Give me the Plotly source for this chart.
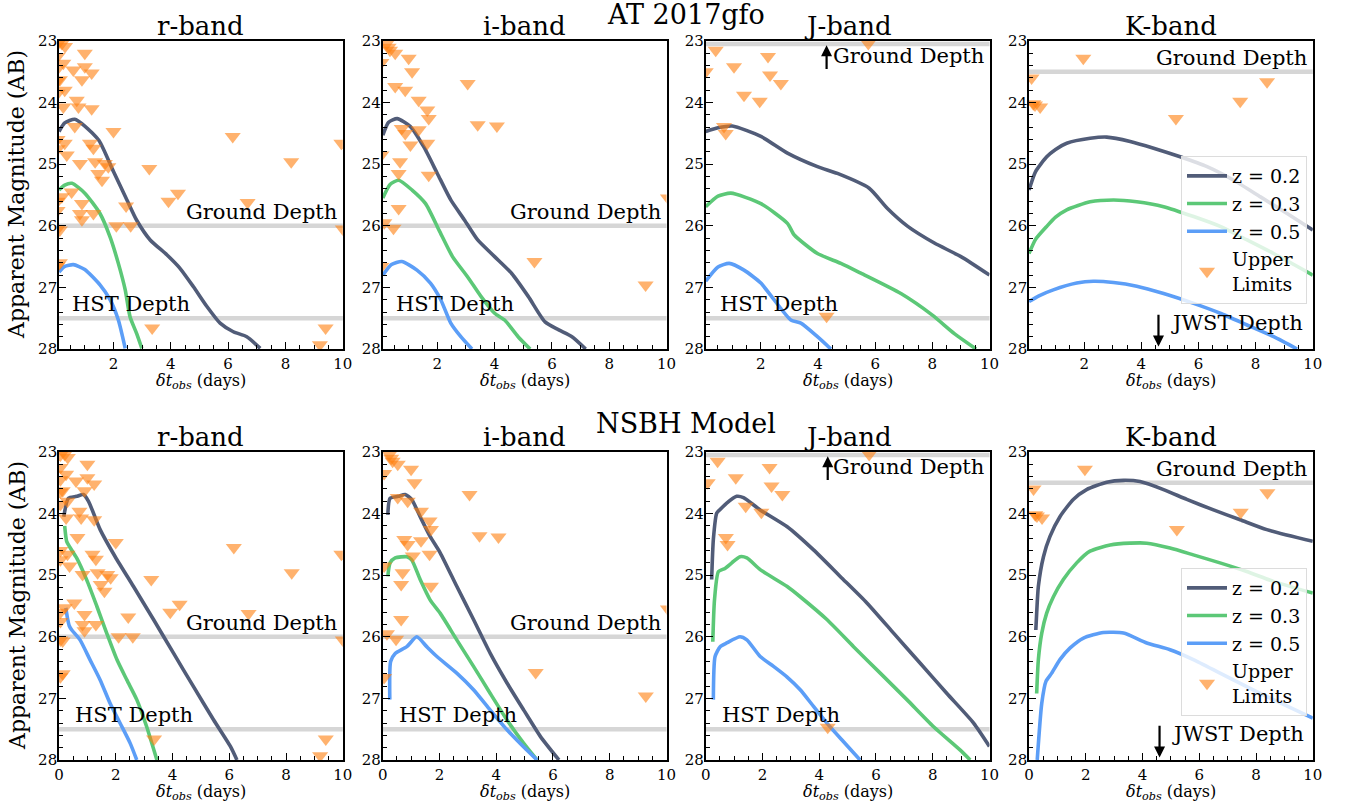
import plotly.graph_objects as go

FONT = "DejaVu Serif"

# ---------------- data ----------------
BANDS = ["r-band", "i-band", "J-band", "K-band"]
Z_LABELS = ["z = 0.2", "z = 0.3", "z = 0.5"]
X_TICKS = [0, 2, 4, 6, 8, 10]
Y_TICKS = [23, 24, 25, 26, 27, 28]

# observational upper limits (same in both rows)
R_LIM_T = [0.31, 0.2, 1.0, 0.25, 0.6, 1.0, 1.24, 0.9, 0.3, 0.72, 0.78, 1.24, 0.25, 0.65, 2.0, 0.3, 1.18, 1.3,
           0.37, 0.83, 1.36, 1.7, 1.82, 1.47, 1.6, 3.25, 6.16, 9.95, 8.2, 4.25, 3.92, 10.0, 6.68, 2.44, 0.54,
           0.9, 0.83, 1.3, 0.9, 2.1, 2.6, 0.2, 0.13, 0.13, 3.35, 9.4, 9.2, 0.13,
           0.05, 0.05, 0.05, 0.05, 0.05, 0.05, 0.05, 0.05, 0.05, 0.05, 0.05]
R_LIM_M = [23.09, 23.04, 23.2, 23.36, 23.47, 23.42, 23.52, 23.63, 23.8, 23.96, 24.07, 24.1, 24.07, 24.39, 24.47,
           24.66, 24.66, 24.74, 24.85, 24.99, 24.96, 24.99, 25.04, 25.15, 25.26, 25.07, 24.55, 24.66, 24.96,
           25.47, 25.6, 26.05, 25.62, 25.68, 25.45, 25.64, 25.8, 25.8, 25.9, 26.0, 26.0, 25.53, 26.07, 26.6,
           27.66, 27.66, 27.93, 23.63,
           23.05, 23.25, 23.45, 23.65, 23.85, 24.6, 24.75, 25.6, 25.75, 26.05, 26.65]
I_LIM_T = [0.24, 0.35, 0.53, 1.0, 1.12, 0.53, 0.88, 3.06, 1.35, 1.65, 1.7, 0.76, 0.88, 1.35, 3.41, 4.08, 1.06,
           1.65, 0.05, 0.7, 0.65, 1.7, 0.65, 0.15, 0.47, 0.05, 5.39, 9.27, 10.05, 0.3, 0.05]
I_LIM_M = [23.04, 23.15, 23.2, 23.28, 23.5, 23.74, 23.8, 23.69, 23.96, 24.12, 24.26, 24.42, 24.5, 24.44, 24.36,
           24.38, 24.69, 24.66, 24.85, 24.96, 25.15, 25.18, 25.72, 25.95, 26.04, 26.66, 26.58, 26.96, 25.55,
           23.1, 23.35]
J_LIM_T = [0.07, 0.42, 1.06, 1.41, 1.96, 2.25, 2.32, 2.7, 0.71, 0.77, 5.76, 4.3]
J_LIM_M = [23.5, 23.15, 23.42, 23.88, 23.98, 23.25, 23.55, 23.69, 24.39, 24.5, 23.04, 27.47]
K_LIM_T = [1.97, 0.16, 0.28, 0.46, 5.21, 7.46, 8.4, 0.22]
K_LIM_M = [23.28, 23.6, 24.04, 24.07, 24.26, 23.98, 23.66, 24.02]

# depth levels per band
GROUND_DEPTH = [26.0, 26.0, 23.05, 23.5]
HST_DEPTH = [27.5, 27.5, 27.5, None]

# ---- AT 2017gfo (top row) ----
AT_R_T02 = [0.1, 0.3, 0.65, 1.0, 1.5, 2.0, 2.47, 2.81, 3.28, 3.86, 4.32, 4.79, 5.26, 5.72, 6.18, 6.65, 7.12]
AT_R_M02 = [24.47, 24.33, 24.27, 24.38, 24.62, 25.12, 25.58, 25.91, 26.23, 26.47, 26.69, 26.99, 27.31, 27.58, 27.72, 27.8, 27.99]
AT_R_T03 = [0.1, 0.3, 0.55, 1.0, 1.53, 1.88, 2.17, 2.41, 2.58, 2.81, 2.99]
AT_R_M03 = [25.42, 25.34, 25.31, 25.47, 25.8, 26.18, 26.61, 27.04, 27.48, 27.75, 27.99]
AT_R_T05 = [0.1, 0.3, 0.6, 1.0, 1.53, 1.88, 2.17, 2.41]
AT_R_M05 = [26.75, 26.66, 26.63, 26.71, 26.96, 27.2, 27.53, 27.99]

AT_I_T02 = [0.1, 0.3, 0.6, 1.06, 1.53, 2.0, 2.47, 2.94, 3.41, 4.0, 4.59, 5.18, 5.76, 6.24, 6.7, 7.18]
AT_I_M02 = [24.53, 24.32, 24.26, 24.39, 24.72, 25.15, 25.58, 25.9, 26.23, 26.5, 26.77, 27.15, 27.56, 27.69, 27.8, 28.0]
AT_I_T03 = [0.1, 0.35, 0.65, 1.12, 1.59, 2.06, 2.53, 3.06, 3.53, 4.0, 4.35, 4.82, 5.24]
AT_I_M03 = [25.55, 25.33, 25.26, 25.42, 25.64, 26.07, 26.5, 26.83, 27.15, 27.42, 27.53, 27.8, 28.0]
AT_I_T05 = [0.1, 0.4, 0.76, 1.29, 1.76, 2.12, 2.47, 2.82, 3.21]
AT_I_M05 = [26.8, 26.63, 26.58, 26.72, 26.93, 27.2, 27.58, 27.8, 28.0]

AT_J_T02 = [0.07, 0.5, 1.0, 2.0, 2.93, 3.98, 4.68, 5.79, 6.43, 7.14, 8.07, 9.0, 10.0]
AT_J_M02 = [24.47, 24.41, 24.38, 24.55, 24.82, 25.04, 25.15, 25.39, 25.72, 26.01, 26.28, 26.5, 26.8]
AT_J_T03 = [0.07, 0.5, 0.95, 2.0, 2.93, 3.17, 3.98, 4.8, 5.5, 6.9, 8.0, 8.77, 9.53]
AT_J_M03 = [25.69, 25.52, 25.47, 25.64, 25.96, 26.15, 26.45, 26.61, 26.77, 27.1, 27.45, 27.75, 28.0]
AT_J_T05 = [0.07, 0.5, 0.89, 1.41, 2.0, 2.46, 3.05, 3.4, 3.98, 4.45]
AT_J_M05 = [26.9, 26.67, 26.61, 26.72, 26.93, 27.2, 27.53, 27.58, 27.8, 28.0]

AT_K_T02 = [0.07, 0.3, 0.69, 1.0, 1.39, 2.21, 2.79, 3.61, 4.43, 5.36, 6.3, 7.23, 8.17, 9.1, 10.0]
AT_K_M02 = [25.42, 25.12, 24.88, 24.76, 24.66, 24.58, 24.56, 24.63, 24.74, 24.88, 25.04, 25.26, 25.53, 25.8, 26.07]
AT_K_T03 = [0.07, 0.3, 0.69, 1.0, 1.39, 2.21, 3.03, 3.84, 4.78, 5.83, 6.76, 7.7, 8.63, 10.0]
AT_K_M03 = [26.45, 26.22, 26.01, 25.86, 25.74, 25.61, 25.58, 25.61, 25.69, 25.85, 26.01, 26.23, 26.45, 26.8]
AT_K_T05 = [0.07, 0.4, 0.92, 1.74, 2.32, 3.03, 3.84, 4.78, 5.83, 6.76, 7.7, 8.63, 9.45]
AT_K_M05 = [27.23, 27.14, 27.04, 26.93, 26.9, 26.92, 26.98, 27.1, 27.26, 27.42, 27.61, 27.8, 28.0]

# ---- NSBH model (bottom row) ----
NS_R_T02 = [0.17, 0.33, 0.62, 0.86, 1.04, 1.45, 1.98, 2.62, 3.33, 4.04, 4.74, 5.45, 6.04, 6.27]
NS_R_M02 = [24.05, 23.75, 23.72, 23.69, 23.8, 24.26, 24.7, 25.18, 25.72, 26.27, 26.81, 27.35, 27.78, 28.0]
NS_R_T03 = [0.2, 0.27, 0.39, 0.62, 0.98, 1.33, 1.68, 2.04, 2.39, 2.74, 3.09, 3.45]
NS_R_M03 = [24.2, 24.45, 24.55, 24.72, 25.08, 25.5, 25.94, 26.37, 26.7, 27.02, 27.46, 28.0]
NS_R_T05 = [0.24, 0.3, 0.36, 0.45, 0.74, 1.09, 1.45, 1.8, 2.15, 2.51, 2.74]
NS_R_M05 = [25.53, 25.7, 25.82, 25.89, 26.05, 26.37, 26.7, 27.08, 27.4, 27.73, 28.0]

NS_I_T02 = [0.18, 0.26, 0.55, 0.79, 1.02, 1.32, 1.67, 2.03, 2.61, 3.2, 3.79, 4.38, 4.97, 5.56, 6.21]
NS_I_M02 = [24.02, 23.75, 23.72, 23.69, 23.77, 24.05, 24.37, 24.64, 25.18, 25.72, 26.27, 26.75, 27.19, 27.62, 28.0]
NS_I_T03 = [0.18, 0.26, 0.44, 0.85, 1.02, 1.32, 1.67, 2.03, 2.61, 3.2, 3.79, 4.38, 4.97, 5.44]
NS_I_M03 = [25.02, 24.8, 24.72, 24.7, 24.75, 25.07, 25.4, 25.62, 26.05, 26.48, 26.92, 27.35, 27.73, 28.0]
NS_I_T05 = [0.25, 0.28, 0.44, 0.85, 1.2, 1.55, 1.91, 2.61, 3.2, 3.79, 4.38, 4.97, 5.44]
NS_I_M05 = [27.02, 26.4, 26.27, 26.16, 26.0, 26.16, 26.32, 26.59, 26.86, 27.19, 27.51, 27.79, 28.0]

NS_J_T02 = [0.21, 0.27, 0.39, 0.56, 0.74, 1.09, 1.33, 1.92, 2.86, 3.8, 4.74, 5.68, 6.62, 7.56, 8.5, 9.44, 10.0]
NS_J_M02 = [25.07, 24.42, 23.99, 23.91, 23.83, 23.72, 23.74, 23.94, 24.21, 24.59, 25.02, 25.45, 25.94, 26.43, 26.92, 27.4, 27.78]
NS_J_T03 = [0.25, 0.31, 0.45, 0.68, 0.92, 1.21, 1.45, 1.92, 2.86, 3.33, 4.27, 5.21, 6.15, 7.09, 8.03, 8.97, 9.32]
NS_J_M03 = [26.08, 25.4, 24.94, 24.89, 24.8, 24.7, 24.72, 24.91, 25.18, 25.35, 25.72, 26.16, 26.59, 27.02, 27.46, 27.84, 28.0]
NS_J_T05 = [0.27, 0.33, 0.51, 0.74, 1.21, 1.45, 1.92, 2.39, 2.86, 3.33, 3.8, 4.27, 4.85, 5.44]
NS_J_M05 = [27.02, 26.32, 26.16, 26.1, 26.0, 26.05, 26.32, 26.48, 26.65, 26.86, 27.13, 27.4, 27.7, 28.0]

NS_K_T02 = [0.24, 0.27, 0.33, 0.51, 0.74, 1.09, 1.56, 2.03, 2.74, 3.33, 3.91, 4.74, 5.56, 6.5, 7.44, 8.38, 10.0]
NS_K_M02 = [25.89, 25.62, 25.18, 24.7, 24.37, 24.05, 23.77, 23.61, 23.49, 23.46, 23.48, 23.61, 23.77, 23.94, 24.1, 24.26, 24.45]
NS_K_T03 = [0.27, 0.33, 0.45, 0.62, 0.86, 1.21, 1.68, 2.15, 2.86, 3.56, 4.15, 4.97, 5.79, 6.73, 7.67, 8.61, 10.0]
NS_K_M03 = [26.92, 26.37, 25.94, 25.62, 25.35, 25.07, 24.8, 24.61, 24.51, 24.48, 24.48, 24.56, 24.67, 24.8, 24.94, 25.1, 25.29]
NS_K_T05 = [0.29, 0.45, 0.6, 0.8, 1.09, 1.45, 1.92, 2.62, 3.33, 4.15, 4.97, 5.79, 6.73, 7.67, 8.61, 10.0]
NS_K_M05 = [28.0, 27.08, 26.72, 26.59, 26.37, 26.18, 26.02, 25.93, 25.94, 26.1, 26.21, 26.37, 26.59, 26.81, 27.02, 27.32]

# ---------------- styling ----------------
LINE_COLORS = ["#515c78", "#5cc877", "#5c9ef7"]
LIM_COLOR = "#ff7f0e"
DEPTH_COLOR = "#d6d6d6"

TOP_CURVES = [
    [(AT_R_T02, AT_R_M02), (AT_R_T03, AT_R_M03), (AT_R_T05, AT_R_M05)],
    [(AT_I_T02, AT_I_M02), (AT_I_T03, AT_I_M03), (AT_I_T05, AT_I_M05)],
    [(AT_J_T02, AT_J_M02), (AT_J_T03, AT_J_M03), (AT_J_T05, AT_J_M05)],
    [(AT_K_T02, AT_K_M02), (AT_K_T03, AT_K_M03), (AT_K_T05, AT_K_M05)],
]
BOT_CURVES = [
    [(NS_R_T02, NS_R_M02), (NS_R_T03, NS_R_M03), (NS_R_T05, NS_R_M05)],
    [(NS_I_T02, NS_I_M02), (NS_I_T03, NS_I_M03), (NS_I_T05, NS_I_M05)],
    [(NS_J_T02, NS_J_M02), (NS_J_T03, NS_J_M03), (NS_J_T05, NS_J_M05)],
    [(NS_K_T02, NS_K_M02), (NS_K_T03, NS_K_M03), (NS_K_T05, NS_K_M05)],
]
LIMITS = [(R_LIM_T, R_LIM_M), (I_LIM_T, I_LIM_M), (J_LIM_T, J_LIM_M), (K_LIM_T, K_LIM_M)]

# page pixels (body margin is removed by a post script)
W, H = 1349, 808
ML, MT = 59, 41
MR = W - 1313
MB = H - 760
PW, PH = W - ML - MR, H - MT - MB

def px_x(p):
    return (p - ML) / PW

def px_y(p):
    return (H - MB - p) / PH

COL_LEFT = [59, 382.7, 705.7, 1029]
PANEL_W = 283.8
X_DOM = [[max(0.0, px_x(l)), min(1.0, px_x(l + PANEL_W))] for l in COL_LEFT]
Y_DOM = [[px_y(349), 1.0], [0.0, px_y(452)]]
TOP_XMIN = [0.1, 0.094, 0.07, 0.07]

fig = go.Figure()
annotations = []
shapes = []
layout_axes = {}

for row in range(2):
    curves_row = TOP_CURVES if row == 0 else BOT_CURVES
    legend_name = "legend" if row == 0 else "legend2"
    for col in range(4):
        n = row * 4 + col + 1
        xa = "x" if n == 1 else f"x{n}"
        ya = "y" if n == 1 else f"y{n}"
        for k, (t, m) in enumerate(curves_row[col]):
            fig.add_trace(go.Scatter(
                x=t, y=m, mode="lines", xaxis=xa, yaxis=ya,
                line=dict(color=LINE_COLORS[k], width=3.6, shape="spline", smoothing=0.6),
                name=Z_LABELS[k], showlegend=(col == 3), legend=legend_name,
            ))
        lt, lm = LIMITS[col]
        fig.add_trace(go.Scatter(
            x=lt, y=lm, mode="markers", xaxis=xa, yaxis=ya,
            marker=dict(symbol="triangle-down", size=14, color=LIM_COLOR, opacity=0.6, line=dict(width=0)),
            name="Upper<br>Limits", showlegend=(col == 3), legend=legend_name,
        ))

        common = dict(showline=True, linecolor="black", linewidth=1.6, mirror=True,
                      ticks="inside", ticklen=7, tickwidth=1.2, tickcolor="black",
                      showgrid=False, zeroline=False,
                      tickfont=dict(family=FONT, size=15, color="black"))
        xmin = TOP_XMIN[col] if row == 0 else 0.0
        layout_axes["xaxis" if n == 1 else f"xaxis{n}"] = dict(
            common, domain=X_DOM[col], anchor=ya, range=[xmin, 10],
            tickmode="array", tickvals=X_TICKS,
            minor=dict(ticks="inside", ticklen=4, tickwidth=1, tickcolor="black", dtick=0.5, tick0=0, showgrid=False))
        layout_axes["yaxis" if n == 1 else f"yaxis{n}"] = dict(
            common, domain=Y_DOM[row], anchor=xa, range=[28, 23],
            tickmode="array", tickvals=Y_TICKS, ticklabelstandoff=-3,
            minor=dict(ticks="inside", ticklen=4, tickwidth=1, tickcolor="black", dtick=0.2, tick0=23, showgrid=False))

        # depth lines
        for dval in (GROUND_DEPTH[col], HST_DEPTH[col]):
            if dval is not None:
                shapes.append(dict(type="line", xref=f"{xa} domain", yref=ya, x0=0, x1=1, y0=dval, y1=dval,
                                   line=dict(color=DEPTH_COLOR, width=4.5), layer="below"))

        # panel title
        annotations.append(dict(text=BANDS[col], xref=f"{xa} domain", yref=f"{ya} domain", x=0.5, y=1,
                                yanchor="middle", yshift=15, showarrow=False,
                                font=dict(family=FONT, size=26, color="black")))
        # x-axis title
        annotations.append(dict(text="<i>δt</i><sub><i>obs</i></sub> (days)", xref=f"{xa} domain",
                                yref=f"{ya} domain", x=0.5, y=0, yanchor="middle", yshift=-32,
                                showarrow=False, font=dict(family=FONT, size=16, color="black")))

        tfont = dict(family=FONT, size=21, color="black")
        if col in (0, 1):
            annotations.append(dict(text="Ground Depth", xref=xa, yref=ya, x=9.87, y=GROUND_DEPTH[col],
                                    xanchor="right", yanchor="bottom", showarrow=False, font=tfont))
        if col in (0, 1, 2):
            annotations.append(dict(text="HST Depth", xref=xa, yref=ya, x=0.5, y=HST_DEPTH[col],
                                    xanchor="left", yanchor="bottom", showarrow=False, font=tfont))
        if col == 2:
            annotations.append(dict(text="Ground Depth", xref=xa, yref=ya, x=9.87, y=23.47,
                                    xanchor="right", yanchor="bottom", showarrow=False, font=tfont))
            annotations.append(dict(text="", xref=xa, yref=ya, x=4.3, y=23.07, axref=xa, ayref=ya,
                                    ax=4.3, ay=23.48, showarrow=True, arrowhead=2, arrowsize=1,
                                    arrowwidth=2.2, arrowcolor="black"))
        if col == 3:
            annotations.append(dict(text="Ground Depth", xref=xa, yref=ya, x=9.87, y=GROUND_DEPTH[col],
                                    xanchor="right", yanchor="bottom", showarrow=False, font=tfont))
            annotations.append(dict(text="JWST Depth", xref=xa, yref=ya, x=4.98, y=27.8,
                                    xanchor="left", yanchor="bottom", showarrow=False, font=tfont))
            annotations.append(dict(text="", xref=xa, yref=ya, x=4.6, y=27.96, axref=xa, ayref=ya,
                                    ax=4.6, ay=27.42, showarrow=True, arrowhead=2, arrowsize=1,
                                    arrowwidth=2.2, arrowcolor="black"))

# row titles and y-axis labels
annotations.append(dict(text="AT 2017gfo", xref="paper", yref="paper", x=0.5, y=px_y(14),
                        yanchor="middle", showarrow=False, font=dict(family=FONT, size=27, color="black")))
annotations.append(dict(text="NSBH Model", xref="paper", yref="paper", x=0.5, y=px_y(423),
                        yanchor="middle", showarrow=False, font=dict(family=FONT, size=27, color="black")))
for yc in (195, 606):
    annotations.append(dict(text="Apparent Magnitude (AB)", xref="paper", yref="paper", x=px_x(17),
                            y=px_y(yc), textangle=-90, xanchor="center", yanchor="middle", showarrow=False,
                            font=dict(family=FONT, size=22, color="black")))

legend_style = dict(xanchor="right", yanchor="top", bgcolor="rgba(255,255,255,0.8)",
                    bordercolor="#dcdcdc", borderwidth=1, font=dict(family=FONT, size=19, color="black"),
                    itemwidth=40, tracegroupgap=0)

fig.update_layout(
    width=W, height=H,
    margin=dict(l=ML, r=MR, t=MT, b=MB),
    paper_bgcolor="white", plot_bgcolor="white",
    annotations=annotations, shapes=shapes,
    legend=dict(legend_style, x=px_x(1307), y=px_y(156)),
    legend2=dict(legend_style, x=px_x(1307), y=px_y(568)),
    **layout_axes,
)

fig.write_html("out.html",
               config={"displayModeBar": False},
               post_script="document.body.style.margin='0px';document.body.style.overflow='hidden';")
